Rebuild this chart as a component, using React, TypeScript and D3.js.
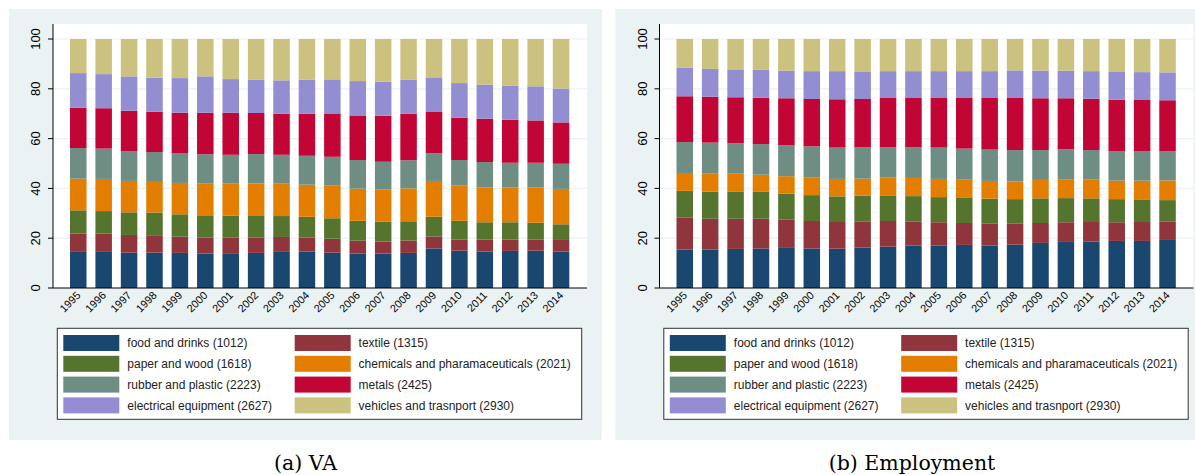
import React from "react";
import * as d3 from "d3";

const years = ["1995","1996","1997","1998","1999","2000","2001","2002","2003","2004","2005","2006","2007","2008","2009","2010","2011","2012","2013","2014"];

const seriesKeys = ["food","textile","paper","chem","rubber","metals","elec","vehicles"];
const seriesLabels = [
  "food and drinks (1012)",
  "textile (1315)",
  "paper and wood (1618)",
  "chemicals and pharamaceuticals (2021)",
  "rubber and plastic (2223)",
  "metals (2425)",
  "electrical equipment (2627)",
  "vehicles and trasnport (2930)",
];
const seriesColors = ["#1a476f","#90353b","#55752f","#e37e00","#6e8e84","#c10534","#938dd2","#cac27e"];

// VA shares (%)
const vaFood = [14.5,14.5,14.2,14.2,14.1,13.8,13.7,14.1,14.5,14.6,14.2,13.8,13.8,14.1,15.9,15.0,14.6,14.9,15.0,14.6];
const vaTextile = [7.3,7.3,7.1,7.0,6.5,6.5,6.5,6.2,6.0,5.7,5.6,5.2,4.9,5.0,4.8,4.5,4.8,4.5,4.4,4.7];
const vaPaper = [9.4,9.1,9.1,9.1,9.0,8.9,8.8,8.9,8.4,8.3,8.2,8.0,7.9,7.7,7.9,7.5,7.0,7.0,6.8,6.3];
const vaChem = [12.7,12.9,12.6,12.3,12.6,12.7,12.9,12.8,13.0,12.9,13.1,12.9,12.9,13.2,14.4,14.1,13.9,13.9,14.1,14.2];
const vaRubber = [12.3,12.2,12.0,12.0,12.0,11.8,11.6,11.8,11.6,11.6,11.6,11.5,11.2,11.3,11.1,10.3,10.3,10.0,10.0,10.1];
const vaMetals = [16.2,16.2,16.2,16.2,16.2,16.7,16.9,16.5,16.5,16.9,17.4,17.9,18.5,18.7,16.8,17.0,17.4,17.3,17.0,16.6];
const vaElec = [13.9,13.7,13.8,13.7,13.9,14.6,13.5,13.4,13.4,13.7,13.7,13.8,13.7,13.7,13.7,13.9,13.7,13.7,13.7,13.6];
const vaVehicles = [13.7,14.1,15.0,15.5,15.7,15.0,16.1,16.3,16.6,16.3,16.2,16.9,17.1,16.3,15.4,17.7,18.3,18.7,19.0,19.9];

// Employment shares (%)
const emFood = [15.4,15.5,15.7,15.9,16.1,15.9,15.8,16.2,16.6,17.0,17.1,17.3,17.1,17.4,18.1,18.5,18.7,18.9,18.9,19.3];
const emTextile = [12.8,12.3,12.1,11.9,11.3,11.0,10.7,10.4,10.3,9.6,9.3,8.8,8.7,8.4,8.0,7.9,7.8,7.5,7.6,7.3];
const emPaper = [10.8,10.9,10.8,10.8,10.5,10.4,10.3,10.5,10.3,10.3,10.1,10.3,10.1,9.9,9.9,9.7,9.5,9.3,9.1,8.7];
const emChem = [7.2,7.2,7.3,6.9,7.0,7.0,7.0,6.8,7.1,7.3,7.3,7.1,7.1,7.1,7.4,7.4,7.5,7.4,7.5,7.9];
const emRubber = [12.4,12.5,12.2,12.3,12.5,12.6,12.6,12.7,12.3,12.4,12.6,12.5,12.6,12.6,12.0,12.2,11.9,11.9,11.9,11.8];
const emMetals = [18.4,18.4,18.5,18.6,18.8,19.0,19.4,19.3,19.7,19.7,19.9,20.3,20.7,20.9,20.8,20.5,20.6,20.6,20.5,20.4];
const emElec = [11.4,11.2,11.2,11.2,11.1,11.2,11.3,11.1,10.8,10.8,10.8,10.8,10.8,11.1,11.1,11.1,11.1,11.4,11.2,11.2];
const emVehicles = [11.6,12.0,12.2,12.4,12.7,12.9,12.9,13.0,12.9,12.9,12.9,12.9,12.9,12.6,12.7,12.7,12.9,13.0,13.3,13.4];

const yTicks = [0,20,40,60,80,100];

const vaSeries = [vaFood,vaTextile,vaPaper,vaChem,vaRubber,vaMetals,vaElec,vaVehicles];
const emSeries = [emFood,emTextile,emPaper,emChem,emRubber,emMetals,emElec,emVehicles];

const BG = "#eaf2f3";
const SANS = "'Liberation Sans', Arial, Helvetica, sans-serif";

function Panel({ series, caption, dx }: { series: number[][]; caption: string; dx: number }) {
  const rows = years.map((y, i) => {
    const r: any = { year: y };
    seriesKeys.forEach((k, j) => (r[k] = series[j][i]));
    return r;
  });
  const stacked = d3.stack().keys(seriesKeys)(rows);
  const x = d3.scaleBand().domain(years).range([70, 569.3]).paddingInner(0.35).paddingOuter(0);
  const y = d3.scaleLinear().domain([0, 100]).range([288, 39]);
  const plotL = 53, plotR = 587, plotT = 24, plotB = 288;

  return (
    <g transform={`translate(${dx},0)`}>
      <rect x={9} y={9} width={593} height={431} fill={BG} />
      <rect x={plotL} y={plotT} width={plotR - plotL} height={plotB - plotT} fill="#ffffff" />
      {yTicks.filter((t) => t > 0).map((t) => (
        <line key={t} x1={plotL} x2={plotR} y1={y(t)} y2={y(t)} stroke={BG} strokeWidth={1.2} />
      ))}
      {stacked.map((s, j) => (
        <g key={s.key} fill={seriesColors[j]}>
          {s.map((d, i) => (
            <rect key={i} x={x(years[i])} width={x.bandwidth()} y={y(d[1])} height={y(d[0]) - y(d[1])} />
          ))}
        </g>
      ))}
      <line x1={plotL} x2={plotL} y1={plotT} y2={plotB} stroke="#000" strokeWidth={1} />
      <line x1={plotL} x2={plotR} y1={plotB} y2={plotB} stroke="#000" strokeWidth={1} />
      {yTicks.map((t) => (
        <g key={t}>
          <line x1={plotL - 5} x2={plotL} y1={y(t)} y2={y(t)} stroke="#000" strokeWidth={1} />
          <text
            transform={`translate(40,${y(t)}) rotate(-90)`}
            textAnchor="middle"
            fontFamily={SANS}
            fontSize={13}
            fill="#000"
          >
            {t}
          </text>
        </g>
      ))}
      {years.map((yr) => (
        <text
          key={yr}
          transform={`translate(${(x(yr) as number) + x.bandwidth() / 2 + 3},${plotB + 8}) rotate(-45)`}
          textAnchor="end"
          fontFamily={SANS}
          fontSize={10.8}
          fill="#000"
        >
          {yr}
        </text>
      ))}
      <rect x={57.3} y={328.3} width={524.4} height={91} fill="#fff" stroke="#333" strokeWidth={1} />
      {seriesKeys.map((k, j) => {
        const col = j % 2;
        const row = Math.floor(j / 2);
        const sx = col === 0 ? 63.3 : 294.7;
        const tx = col === 0 ? 127.3 : 358.6;
        const sy = 335 + row * 20.8;
        return (
          <g key={k}>
            <rect x={sx} y={sy} width={56} height={16} fill={seriesColors[j]} />
            <text x={tx} y={sy + 12.2} fontFamily={SANS} fontSize={12} fill="#222">
              {seriesLabels[j]}
            </text>
          </g>
        );
      })}
      <text x={305.5} y={470} textAnchor="middle" fontFamily="'DejaVu Serif', serif" fontSize={20.5} fill="#000">
        {caption}
      </text>
    </g>
  );
}

export default function App() {
  return (
    <svg
      width={1195}
      height={475}
      style={{ position: "absolute", left: 0, top: 0, background: "#fff" }}
    >
      <rect x={0} y={0} width={1195} height={475} fill="#fff" />
      <Panel series={vaSeries} caption="(a) VA" dx={0} />
      <Panel series={emSeries} caption="(b) Employment" dx={606.5} />
    </svg>
  );
}
